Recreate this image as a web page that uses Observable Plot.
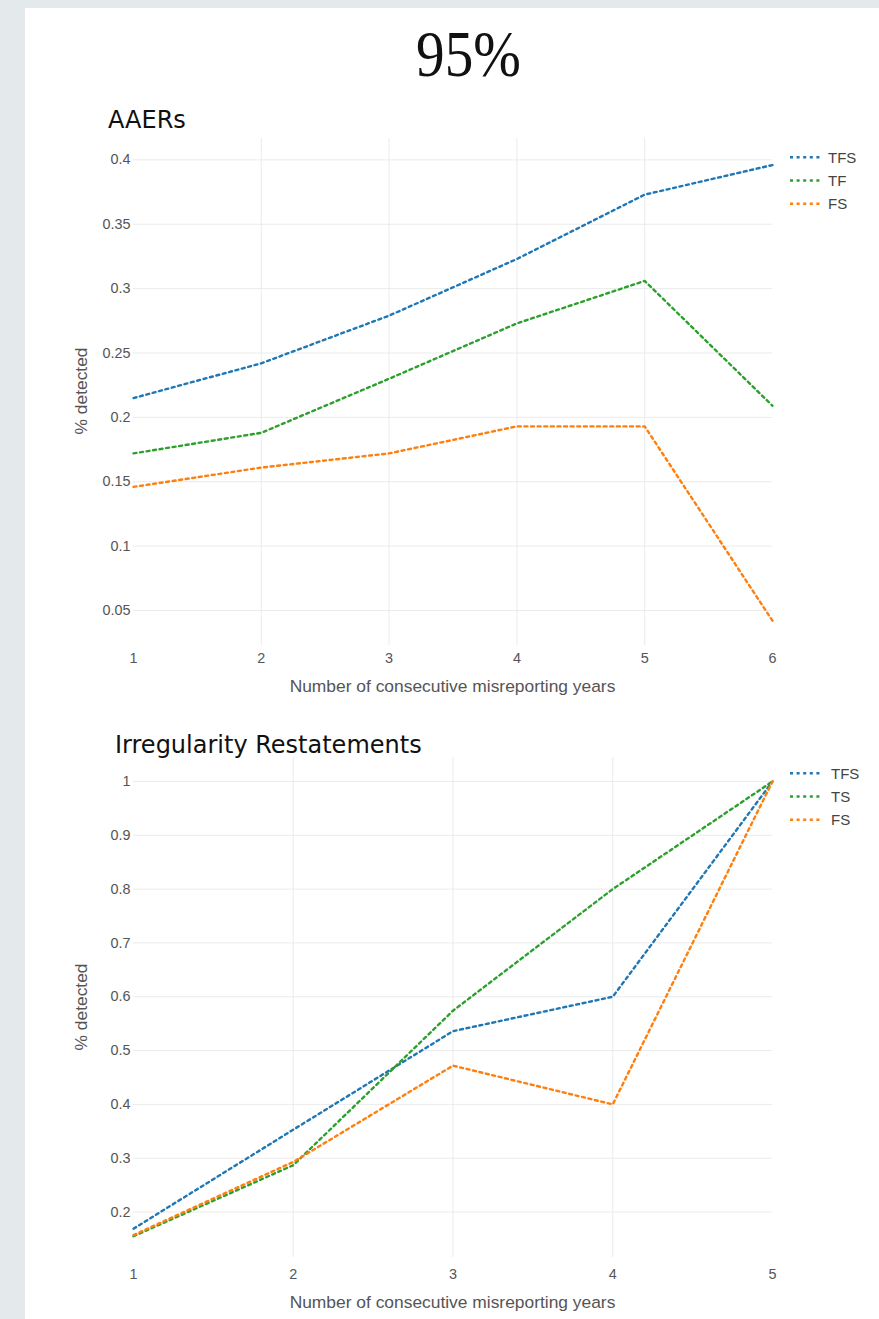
<!DOCTYPE html>
<html>
<head>
<meta charset="utf-8">
<script src="https://cdn.jsdelivr.net/npm/d3@7"></script>
<script src="https://cdn.jsdelivr.net/npm/@observablehq/plot@0.6"></script>
<style>
  html, body { margin: 0; padding: 0; }
  body { width: 879px; height: 1319px; background: #e4e9ec; position: relative; overflow: hidden; }
  #panel { position: absolute; left: 25px; top: 8px; width: 854px; height: 1311px; background: #ffffff; }
  .plotbox { position: absolute; left: 0; }
  #overlay { position: absolute; left: 0; top: 0; pointer-events: none; }
</style>
</head>
<body>
<div id="panel"></div>
<div id="top" class="plotbox" style="top:100px"></div>
<div id="bottom" class="plotbox" style="top:720px"></div>
<svg id="overlay" width="879" height="1319"></svg>
<script>
// ---------- data ----------
const pageTitle = "95%";
const xLabel = "Number of consecutive misreporting years";
const yLabel = "% detected";

const aaerTitle = "AAERs";
const aaerYears = [1, 2, 3, 4, 5, 6];
const aaerTFS = [0.215, 0.242, 0.279, 0.323, 0.373, 0.396];
const aaerTF  = [0.172, 0.188, 0.230, 0.273, 0.306, 0.209];
const aaerFS  = [0.146, 0.161, 0.172, 0.193, 0.193, 0.042];
const aaerSeries = ["TFS", "TF", "FS"];
const aaerYTicks = [0.05, 0.1, 0.15, 0.2, 0.25, 0.3, 0.35, 0.4];

const irrTitle = "Irregularity Restatements";
const irrYears = [1, 2, 3, 4, 5];
const irrTFS = [0.169, 0.353, 0.536, 0.600, 1.0];
const irrTS  = [0.155, 0.287, 0.574, 0.800, 1.0];
const irrFS  = [0.157, 0.293, 0.472, 0.400, 1.0];
const irrSeries = ["TFS", "TS", "FS"];
const irrYTicks = [0.2, 0.3, 0.4, 0.5, 0.6, 0.7, 0.8, 0.9, 1];

const seriesColors = { TFS: "#1f77b4", TF: "#2ca02c", TS: "#2ca02c", FS: "#ff7f0e" };

// ---------- helpers ----------
function toRows(years, seriesMap) {
  return Object.entries(seriesMap).flatMap(([s, vals]) =>
    vals.map((v, i) => ({ x: years[i], y: v, s })));
}

const dash = "3,3.6";

function chart({ rows, names, years, yTicks, yDomain, height, mt, mb, padX }) {
  const gx = years.slice(1, -1);
  return Plot.plot({
    width: 879,
    height,
    marginTop: mt,
    marginBottom: mb,
    marginLeft: 133,
    marginRight: 107,
    style: { fontFamily: "'Liberation Sans', Arial, sans-serif", fontSize: "14.4px", color: "#555", background: "transparent", overflow: "visible" },
    x: { domain: [years[0], years[years.length - 1]] },
    y: { domain: yDomain },
    marks: [
      Plot.gridY(yTicks, { stroke: "#ebebeb", strokeOpacity: 1, strokeWidth: 1 }),
      Plot.gridX(gx, { stroke: "#ebebeb", strokeOpacity: 1, strokeWidth: 1 }),
      Plot.axisY(yTicks, { tickSize: 0, tickPadding: 3, tickFormat: d => String(d), label: null }),
      Plot.axisX(years, { tickSize: 0, tickPadding: padX, tickFormat: d => String(d), label: null }),
      ...names.map(n => Plot.line(rows.filter(r => r.s === n), {
        x: "x", y: "y", stroke: seriesColors[n], strokeWidth: 2.4, strokeDasharray: dash
      }))
    ]
  });
}

// ---------- charts ----------
const aaerRows = toRows(aaerYears, { TFS: aaerTFS, TF: aaerTF, FS: aaerFS });
document.getElementById("top").appendChild(chart({
  rows: aaerRows, names: aaerSeries, years: aaerYears, yTicks: aaerYTicks,
  yDomain: [0.0228, 0.4166], height: 600, mt: 38, mb: 55, padX: 7
}));

const irrRows = toRows(irrYears, { TFS: irrTFS, TS: irrTS, FS: irrFS });
document.getElementById("bottom").appendChild(chart({
  rows: irrRows, names: irrSeries, years: irrYears, yTicks: irrYTicks,
  yDomain: [0.1155, 1.0445], height: 580, mt: 37, mb: 43, padX: 11
}));

// ---------- overlay texts & legends ----------
const ov = d3.select("#overlay");

ov.append("text")
  .attr("transform", "translate(468.5,76) scale(1.04,1.2)")
  .attr("text-anchor", "middle")
  .attr("font-family", "'Liberation Serif', 'DejaVu Serif', serif")
  .attr("font-size", 55)
  .attr("fill", "#111")
  .text(pageTitle);

function panelTexts({ title, titleX, titleY, cy, xTitleY, legendNames, legendY0, textX }) {
  ov.append("text").attr("x", titleX).attr("y", titleY)
    .attr("font-family", "'DejaVu Sans', sans-serif").attr("font-size", 24)
    .attr("fill", "#111").text(title);
  ov.append("text")
    .attr("transform", `translate(81,${cy}) rotate(-90)`)
    .attr("text-anchor", "middle").attr("dy", "0.35em")
    .attr("font-family", "'Liberation Sans', Arial, sans-serif").attr("font-size", 17.4)
    .attr("fill", "#555").text(yLabel);
  ov.append("text").attr("x", 452.5).attr("y", xTitleY)
    .attr("text-anchor", "middle").attr("dy", "0.35em")
    .attr("font-family", "'Liberation Sans', Arial, sans-serif").attr("font-size", 17.4)
    .attr("fill", "#555").text(xLabel);
  legendNames.forEach((n, i) => {
    const y = legendY0 + i * 23.2;
    ov.append("line").attr("x1", 790).attr("x2", 823).attr("y1", y).attr("y2", y)
      .attr("stroke", seriesColors[n]).attr("stroke-width", 2.4).attr("stroke-dasharray", dash);
    ov.append("text").attr("x", textX).attr("y", y).attr("dy", "0.35em")
      .attr("font-family", "'Liberation Sans', Arial, sans-serif").attr("font-size", 15)
      .attr("fill", "#444").text(n);
  });
}

panelTexts({ title: aaerTitle, titleX: 108, titleY: 128, cy: 391, xTitleY: 686,
  legendNames: aaerSeries, legendY0: 157.3, textX: 828 });
panelTexts({ title: irrTitle, titleX: 115, titleY: 752.7, cy: 1007, xTitleY: 1302,
  legendNames: irrSeries, legendY0: 773.3, textX: 831 });
</script>
</body>
</html>
